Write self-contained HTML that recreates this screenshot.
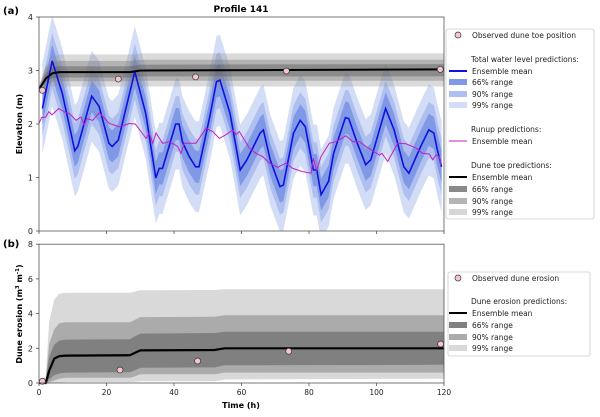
<!DOCTYPE html>
<html><head><meta charset="utf-8"><style>
body{margin:0;background:#fff;font-family:"Liberation Sans","DejaVu Sans",sans-serif}
svg text{font-family:"DejaVu Sans","Liberation Sans",sans-serif}
</style></head><body>
<svg id="c" width="600" height="412" viewBox="0 0 600 412" xmlns="http://www.w3.org/2000/svg"></svg>
<script>
// ---- data ----
const twlT=[1,3.9,6.9,10.6,11.5,15.6,17.8,20.7,21.7,23.5,28.4,31.6,34.6,35.6,36.6,40.5,41.5,42.5,44.5,46.4,47.4,50.6,52.6,53.6,56.6,59.6,61.6,65.5,66.5,68.5,71.4,72.4,75.4,77.4,78.9,81.3,82.3,83.6,85.8,87.3,90.8,91.8,94.3,96.8,98.3,102.7,105.2,108.1,109.6,113.1,115.5,117,118,119.3];
const twlMean=[2.29,3.18,2.57,1.50,1.58,2.52,2.33,1.64,1.58,1.70,2.98,2.2,0.99,1.17,1.17,2.0,2.0,1.67,1.39,1.2,1.2,2.14,2.79,2.82,2.2,1.14,1.33,1.83,1.89,1.33,0.83,0.86,1.83,2.07,1.95,1.14,1.14,0.68,0.93,1.45,2.12,2.1,1.64,1.24,1.33,2.29,1.89,1.2,1.08,1.58,1.89,1.83,1.52,1.2];
const twlW66=0.3, twlW90=0.52, twlW99=0.85;
const runT=[-0.1,0.77,2.07,2.86,3.85,5.83,8.0,8.99,10.96,12.44,13.43,14.12,15.9,17.88,20.84,23.8,26.77,28.54,30.22,31.7,32.69,33.68,34.67,36.64,38.62,41.09,42.07,43.06,46.52,49.48,51.46,53.43,55.41,57.38,58.37,59.36,62.32,64.3,66.27,68.25,70.72,73.19,75.16,78.12,80.59,81.28,82.27,83.56,86.02,88.0,90.96,92.94,94.91,96.89,100.84,101.63,103.31,106.27,108.74,111.7,113.68,115.65,116.64,117.63,118.62,119.1];
const runMean=[2.0,2.12,2.13,2.23,2.17,2.29,2.21,2.2,2.07,2.13,1.98,2.1,2.07,2.21,2.01,1.95,2.01,2.0,1.86,1.73,1.83,1.64,1.83,1.64,1.67,1.58,1.45,1.64,1.64,1.92,1.86,1.73,1.80,1.89,1.80,1.86,1.55,1.45,1.39,1.27,1.19,1.27,1.17,1.11,1.08,1.36,1.14,1.39,1.64,1.67,1.78,1.67,1.67,1.58,1.42,1.45,1.30,1.64,1.63,1.55,1.45,1.44,1.33,1.42,1.39,1.23];
const toeT=[0,2,4,6,27,30,120];
const toeMean=[2.65,2.85,2.95,2.97,2.97,3.0,3.02];
const toe66Lo=[2.62,2.78,2.86,2.87,2.87,2.89,2.89], toe66Hi=[2.68,2.95,3.06,3.08,3.08,3.11,3.12];
const toe90Lo=[2.6,2.72,2.79,2.8,2.8,2.81,2.81], toe90Hi=[2.7,3.05,3.16,3.18,3.18,3.2,3.2];
const toe99Lo=[2.58,2.66,2.7,2.7,2.7,2.7,2.7], toe99Hi=[2.72,3.1,3.26,3.3,3.3,3.32,3.32];
const toeObsT=[1,23.5,46.4,73.3,118.9], toeObs=[2.63,2.84,2.88,2.99,3.02];
const eroT=[0,2,3,4.5,6,8,27,28,30,52,55,120];
const eroMean=[0,0,0.7,1.4,1.55,1.58,1.6,1.7,1.88,1.9,2.0,2.0];
const ero66Lo=[0,0,0.2,0.45,0.55,0.6,0.62,0.7,0.88,0.9,1.02,1.05];
const ero66Hi=[0,0.1,1.5,2.2,2.45,2.5,2.52,2.65,2.85,2.88,2.95,2.95];
const ero90Lo=[0,0,0.05,0.15,0.25,0.3,0.3,0.35,0.5,0.5,0.6,0.6];
const ero90Hi=[0,0.2,2.2,3.1,3.45,3.5,3.5,3.6,3.8,3.82,3.9,3.9];
const ero99Lo=[0,0,0,0.02,0.03,0.05,0.05,0.06,0.1,0.1,0.2,0.25];
const ero99Hi=[0,0.4,3.5,4.8,5.15,5.2,5.2,5.25,5.35,5.36,5.4,5.4];
const eroObsT=[1,24,47,74,119], eroObs=[0.1,0.75,1.27,1.83,2.25];
const xTicks=[0,20,40,60,80,100,120], yTicksA=[0,1,2,3,4], yTicksB=[0,2,4,6,8];

// ---- helpers ----
const NS="http://www.w3.org/2000/svg", svg=document.getElementById('c');
function mk(tag,at,parent){const e=document.createElementNS(NS,tag);for(const k in at)e.setAttribute(k,at[k]);(parent||svg).appendChild(e);return e;}
const X=t=>39+t*(405/120);
const YA=v=>231-v*53.5;
const YB=v=>383-v*17.35;
function line(ts,vs,Y){return ts.map((t,i)=>(i?'L':'M')+X(t).toFixed(1)+','+Y(vs[i]).toFixed(1)).join('');}
function band(ts,lo,hi,Y){let d=ts.map((t,i)=>(i?'L':'M')+X(t).toFixed(1)+','+Y(hi[i]).toFixed(1)).join('');for(let i=ts.length-1;i>=0;i--)d+='L'+X(ts[i]).toFixed(1)+','+Y(lo[i]).toFixed(1);return d+'Z';}
function txt(x,y,s,at,name){const e=mk('text',Object.assign({x:x,y:y,'font-size':8,fill:'#222'},at||{}));e.textContent=s;return e;}

// ---- panel a ----
const clipA=mk('clipPath',{id:'ca'});mk('rect',{x:39,y:17,width:405,height:214},clipA);
const gA=mk('g',{'clip-path':'url(#ca)'});


[[twlW99,'#d3ddf6','twl-99-band'],[twlW90,'#aebff0','twl-90-band'],[twlW66,'#7f99e6','twl-66-band']].forEach(([w,c,n])=>{
 const p=mk('path',{d:band(twlT,twlMean.map(v=>v-w),twlMean.map(v=>v+w),YA),fill:c},gA);
 
 
});
[[toe99Lo,toe99Hi,'rgba(150,150,150,0.35)','toe-99-band'],[toe90Lo,toe90Hi,'rgba(120,120,120,0.4)','toe-90-band'],[toe66Lo,toe66Hi,'rgba(90,90,90,0.45)','toe-66-band']].forEach(([lo,hi,c,n])=>{
 const p=mk('path',{d:band(toeT,lo,hi,YA),fill:c},gA);
 
 
});
let p=mk('path',{d:line(twlT,twlMean,YA),fill:'none',stroke:'#1010e0','stroke-width':1.6},gA);


p=mk('path',{d:line(runT,runMean,YA),fill:'none',stroke:'#c020c0','stroke-width':1},gA);


p=mk('path',{d:line(toeT,toeMean,YA),fill:'none',stroke:'#000','stroke-width':2},gA);


toeObsT.forEach((t,i)=>{const c=mk('circle',{cx:X(t),cy:YA(toeObs[i]),r:3,fill:'#f7c6cc',stroke:'#333','stroke-width':0.7});
 
 });
const fa=mk('rect',{x:39,y:17,width:405,height:214,fill:'none',stroke:'#555','stroke-width':0.8});


xTicks.forEach(t=>{mk('line',{x1:X(t),x2:X(t),y1:231,y2:234,stroke:'#555','stroke-width':0.8});});
yTicksA.forEach(v=>{mk('line',{x1:36,x2:39,y1:YA(v),y2:YA(v),stroke:'#555','stroke-width':0.8});txt(33,YA(v)+3,v,{'text-anchor':'end'},'y-tick-label-a');});
txt(241,12,'Profile 141',{'text-anchor':'middle','font-weight':'bold','font-size':9,fill:'#000'},'chart-title');
txt(3,14,'(a)',{'font-weight':'bold','font-size':10,fill:'#000'},'panel-a-label');
txt(22,124,'Elevation (m)',{'text-anchor':'middle','font-weight':'bold',transform:'rotate(-90 22 124)',fill:'#000'},'y-axis-title-a');

// legend a
const la=mk('rect',{x:446,y:29,width:148,height:190,fill:'#fff',stroke:'#ccc','stroke-width':0.8,rx:2});


function legRow(y,kind,color,label,name){
 if(kind==='dot')mk('circle',{cx:458,cy:y,r:3,fill:'#f7c6cc',stroke:'#333','stroke-width':0.7});
 if(kind==='line')mk('line',{x1:449,x2:467,y1:y,y2:y,stroke:color,'stroke-width':color==='#c020c0'?1:2});
 if(kind==='box')mk('rect',{x:449,y:y-3,width:18,height:6,fill:color});
 txt(kind?472:471,y+3,label,{'font-size':7.5},name);
}
legRow(35,'dot','','Observed dune toe position','legend-observed-toe');
legRow(59,'','','Total water level predictions:','legend-twl-header');
legRow(71,'line','#1010e0','Ensemble mean','legend-twl-mean');
legRow(82,'box','#7f99e6','66%  range','legend-twl-66');
legRow(94,'box','#aebff0','90%  range','legend-twl-90');
legRow(105,'box','#d3ddf6','99%  range','legend-twl-99');
legRow(129,'','','Runup predictions:','legend-runup-header');
legRow(141,'line','#c020c0','Ensemble mean','legend-runup-mean');
legRow(165,'','','Dune toe predictions:','legend-toe-header');
legRow(177,'line','#000','Ensemble mean','legend-toe-mean');
legRow(189,'box','#8a8a8a','66%  range','legend-toe-66');
legRow(201,'box','#b4b4b4','90%  range','legend-toe-90');
legRow(212,'box','#d6d6d6','99%  range','legend-toe-99');

// ---- panel b ----
const gB=mk('g',{});


[[ero99Lo,ero99Hi,'#d9d9d9','ero-99-band'],[ero90Lo,ero90Hi,'#ababab','ero-90-band'],[ero66Lo,ero66Hi,'#808080','ero-66-band']].forEach(([lo,hi,c,n])=>{
 const q=mk('path',{d:band(eroT,lo,hi,YB),fill:c},gB);
 
 
});
p=mk('path',{d:line(eroT,eroMean,YB),fill:'none',stroke:'#000','stroke-width':2.2},gB);


eroObsT.forEach((t,i)=>{const c=mk('circle',{cx:X(t),cy:YB(eroObs[i]),r:3,fill:'#f7c6cc',stroke:'#333','stroke-width':0.7});
 
 });
const fb=mk('rect',{x:39,y:YB(8),width:405,height:YB(0)-YB(8),fill:'none',stroke:'#555','stroke-width':0.8});


xTicks.forEach(t=>{mk('line',{x1:X(t),x2:X(t),y1:383,y2:386,stroke:'#555','stroke-width':0.8});});
xTicks.forEach(t=>txt(X(t),395,t,{'text-anchor':'middle','font-size':7.5},'x-tick-label'));
yTicksB.forEach(v=>{mk('line',{x1:36,x2:39,y1:YB(v),y2:YB(v),stroke:'#555','stroke-width':0.8});txt(33,YB(v)+3,v,{'text-anchor':'end'},'y-tick-label-b');});
txt(3,247,'(b)',{'font-weight':'bold','font-size':10,fill:'#000'},'panel-b-label');
txt(241,408,'Time (h)',{'text-anchor':'middle','font-weight':'bold',fill:'#000'},'x-axis-title');
const yt=txt(22,314,'',{'text-anchor':'middle','font-weight':'bold',transform:'rotate(-90 22 314)',fill:'#000'},'y-axis-title-b');
yt.innerHTML='Dune erosion (m<tspan dy="-3" font-size="5.5">3</tspan><tspan dy="3"> m</tspan><tspan dy="-3" font-size="5.5">-1</tspan><tspan dy="3">)</tspan>';
// legend b
const lb=mk('rect',{x:448,y:272,width:142,height:84,fill:'#fff',stroke:'#ccc','stroke-width':0.8,rx:2});


legRow(278,'dot','','Observed  dune erosion','legend-observed-erosion');
legRow(301,'','','Dune erosion predictions:','legend-erosion-header');
legRow(313,'line','#000','Ensemble mean','legend-erosion-mean');
legRow(325,'box','#808080','66%  range','legend-erosion-66');
legRow(337,'box','#ababab','90%  range','legend-erosion-90');
legRow(348,'box','#d9d9d9','99%  range','legend-erosion-99');
</script>
</body></html>
